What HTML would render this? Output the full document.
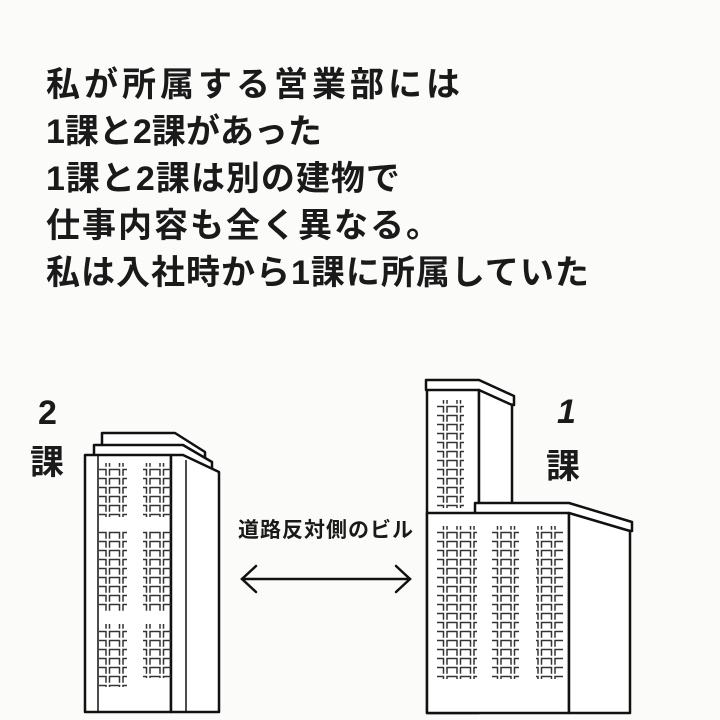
<!DOCTYPE html>
<html><head><meta charset="utf-8"><style>
body{margin:0;width:720px;height:720px;background:#fbfbfa;overflow:hidden;position:relative;font-family:"Liberation Sans","Noto Sans CJK JP",sans-serif;}
.t{position:absolute;left:46px;font-size:34px;font-weight:bold;color:#1a1a1a;letter-spacing:2px;white-space:nowrap;line-height:1;}
.l{position:absolute;font-size:34px;font-weight:bold;color:#1a1a1a;line-height:1;}
</style></head><body>
<div class="t" style="top:68px;letter-spacing:4px">私が所属する営業部には</div>
<div class="t" style="top:115px;letter-spacing:0">1課と2課があった</div>
<div class="t" style="top:162px;letter-spacing:1px">1課と2課は別の建物で</div>
<div class="t" style="top:209px">仕事内容も全く異なる。</div>
<div class="t" style="top:256px;letter-spacing:1px">私は入社時から1課に所属していた</div>
<div class="l" style="left:38px;top:396px">2</div>
<div class="l" style="left:30px;top:446px">課</div>
<div class="l" style="left:557px;top:395px;font-style:italic">1</div>
<div class="l" style="left:546px;top:450px">課</div>
<div style="position:absolute;left:238px;top:514px;font-size:21px;color:#1a1a1a;letter-spacing:1px;font-weight:bold">道路反対側のビル</div>
<svg width="720" height="720" style="position:absolute;left:0;top:0">
<defs>
<pattern id="w" x="0" y="0" width="13.5" height="9" patternUnits="userSpaceOnUse">
<path d="M1.5 7.8V1.5H11.5V7.8" fill="none" stroke="#333" stroke-width="1.5"/>
</pattern>
</defs>
<g fill="#fff" stroke="#111" stroke-width="2.5" stroke-linejoin="round">
<polygon points="102,433 175,433 205,452 205,462 102,445"/>
<polygon points="94,445 183,445 212,462 212,470 94,455"/>
<polygon points="85,455 171,455 171,712 85,712"/>
<polygon points="171,455 183,455 219,472 219,712 171,712"/>
<polygon points="426,380 479,380 514,396 514,405 426,390"/>
<rect x="427" y="390" width="52" height="323"/>
<polygon points="479,390 512,405 512,520 479,520"/>
<polygon points="475,503 569,503 632,522 632,531 475,513"/>
<polygon points="427,513 569,513 569,713 427,713"/>
<polygon points="569,513 630,531 630,713 569,713"/>
</g>
<g stroke="#111" stroke-width="1.5">
<line x1="98" y1="455" x2="98" y2="712"/>
<line x1="186" y1="460" x2="186" y2="712"/>
</g>
<g fill="url(#w)">
<rect x="99" y="463" width="28" height="54"/>
<rect x="143" y="463" width="28" height="54"/>
<rect x="99" y="531" width="28" height="81"/>
<rect x="143" y="531" width="28" height="81"/>
<rect x="99" y="624" width="28" height="63"/>
<rect x="143" y="624" width="28" height="54"/>
<rect x="437" y="400" width="27" height="108"/>
<rect x="437" y="526" width="40" height="153"/>
<rect x="492" y="526" width="27" height="153"/>
<rect x="536" y="526" width="27" height="153"/>
</g>
<g stroke="#111" stroke-width="2.5" fill="none" stroke-linecap="round">
<line x1="242" y1="579" x2="410" y2="579"/>
<polyline points="256,566 242,579 256,592"/>
<polyline points="396,566 410,579 396,592"/>
</g>
</svg>
</body></html>
